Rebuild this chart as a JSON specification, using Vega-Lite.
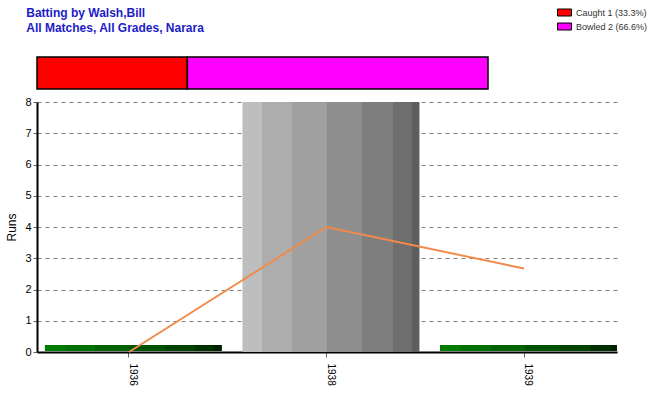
{
  "$schema": "https://vega.github.io/schema/vega-lite/v6.json",
  "background": "white",
  "padding": {"left": 5, "top": 5, "right": 2, "bottom": 2},
  "bounds": "flush",
  "spacing": 13,
  "datasets": {
    "dismissals": [
      {"how": "Caught 1 (33.3%)", "count": 1},
      {"how": "Bowled 2 (66.6%)", "count": 2}
    ],
    "seasons": [
      {"season": "1936", "runs": 0, "average": 0},
      {"season": "1938", "runs": 8, "average": 4},
      {"season": "1939", "runs": 0, "average": 2.67}
    ]
  },
  "config": {
    "view": {"stroke": null},
    "font": "Liberation Sans",
    "axis": {"labelFont": "Liberation Sans", "titleFont": "Liberation Sans", "labelColor": "black", "titleColor": "black"},
    "axisY": {
      "values": [0, 1, 2, 3, 4, 5, 6, 7, 8], "labelFontSize": 11, "labelPadding": 2, "labelOverlap": false,
      "titleFontSize": 12, "titleFontWeight": "normal", "titlePadding": 6,
      "domainColor": "black", "domainWidth": 2, "tickColor": "#666666", "tickSize": 4,
      "grid": true, "gridColor": "#808080", "gridDash": [4, 4], "gridWidth": 1
    }
  },
  "vconcat": [
    {
      "width": 451,
      "height": 32,
      "title": {
        "text": ["Batting by Walsh,Bill", "All Matches, All Grades, Narara"],
        "anchor": "start",
        "dx": -10,
        "offset": 21,
        "font": "Liberation Sans",
        "fontSize": 12,
        "fontWeight": "bold",
        "lineHeight": 15,
        "color": "#1C1CC8"
      },
      "data": {"name": "dismissals"},
      "mark": {"type": "bar", "height": 32, "stroke": "black", "strokeWidth": 1.5},
      "encoding": {
        "x": {"field": "count", "type": "quantitative", "stack": "zero",
              "scale": {"domain": [0, 3], "nice": false}, "axis": null},
        "order": {"field": "count", "type": "quantitative", "sort": "ascending"},
        "color": {
          "field": "how", "type": "nominal",
          "scale": {"domain": ["Caught 1 (33.3%)", "Bowled 2 (66.6%)"], "range": ["#FF0000", "#FF00FF"]},
          "legend": {
            "title": null,
            "orient": "none",
            "legendX": 520,
            "legendY": -52,
            "padding": 0,
            "rowPadding": 1,
            "symbolType": "M-1,-0.5L1,-0.5L1,0.5L-1,0.5Z",
            "symbolSize": 196,
            "symbolStrokeColor": "black",
            "symbolStrokeWidth": 1,
            "symbolOpacity": 1,
            "labelFont": "Liberation Sans",
            "labelFontSize": 9,
            "labelColor": "#333333",
            "labelOffset": 4
          }
        }
      }
    },
    {
      "width": 580,
      "height": 250,
      "data": {"name": "seasons"},
      "encoding": {
        "x": {
          "field": "season", "type": "nominal",
          "scale": {"paddingInner": 0.104, "paddingOuter": 0.02, "align": 1},
          "axis": {
            "title": null, "labelAngle": 90, "labelFontSize": 10, "labelPadding": 6,
            "domainColor": "black", "domainWidth": 2, "tickColor": "#666666", "tickSize": 5,
            "bandPosition": 0.475, "grid": false
          }
        }
      },
      "layer": [
        {
          "transform": [{"filter": "datum.runs > 0"}],
          "mark": {
            "type": "bar",
            "color": {
              "gradient": "linear", "x1": 0, "x2": 1, "y1": 0, "y2": 0,
              "stops": [
                {"offset": 0, "color": "#BEBEBE"}, {"offset": 0.111, "color": "#BEBEBE"},
                {"offset": 0.111, "color": "#ADADAD"}, {"offset": 0.281, "color": "#ADADAD"},
                {"offset": 0.281, "color": "#A0A0A0"}, {"offset": 0.478, "color": "#A0A0A0"},
                {"offset": 0.478, "color": "#8E8E8E"}, {"offset": 0.676, "color": "#8E8E8E"},
                {"offset": 0.676, "color": "#7E7E7E"}, {"offset": 0.849, "color": "#7E7E7E"},
                {"offset": 0.849, "color": "#6E6E6E"}, {"offset": 0.958, "color": "#6E6E6E"},
                {"offset": 0.958, "color": "#5E5E5E"}, {"offset": 1, "color": "#5E5E5E"}
              ]
            }
          },
          "encoding": {
            "y": {
              "field": "runs", "type": "quantitative", "title": "Runs",
              "scale": {"domain": [0, 8], "nice": false}
            }
          }
        },
        {
          "transform": [{"filter": "datum.runs == 0"}],
          "mark": {
            "type": "tick", "thickness": 6, "yOffset": -4, "opacity": 1,
            "color": {
              "gradient": "linear", "x1": 0, "x2": 1, "y1": 0, "y2": 0,
              "stops": [
                {"offset": 0, "color": "#007D00"}, {"offset": 0.111, "color": "#007D00"},
                {"offset": 0.111, "color": "#007000"}, {"offset": 0.281, "color": "#007000"},
                {"offset": 0.281, "color": "#006300"}, {"offset": 0.478, "color": "#006300"},
                {"offset": 0.478, "color": "#005200"}, {"offset": 0.676, "color": "#005200"},
                {"offset": 0.676, "color": "#004300"}, {"offset": 0.849, "color": "#004300"},
                {"offset": 0.849, "color": "#003000"}, {"offset": 0.958, "color": "#003000"},
                {"offset": 0.958, "color": "#002200"}, {"offset": 1, "color": "#002200"}
              ]
            }
          },
          "encoding": {
            "y": {"field": "runs", "type": "quantitative", "title": "Runs"},
            "size": {"value": 177}
          }
        },
        {
          "mark": {"type": "line", "color": "#F28A4B", "strokeWidth": 2},
          "encoding": {
            "x": {"field": "season", "type": "nominal", "bandPosition": 0.475},
            "y": {"field": "average", "type": "quantitative", "title": "Runs"}
          }
        }
      ]
    }
  ]
}
